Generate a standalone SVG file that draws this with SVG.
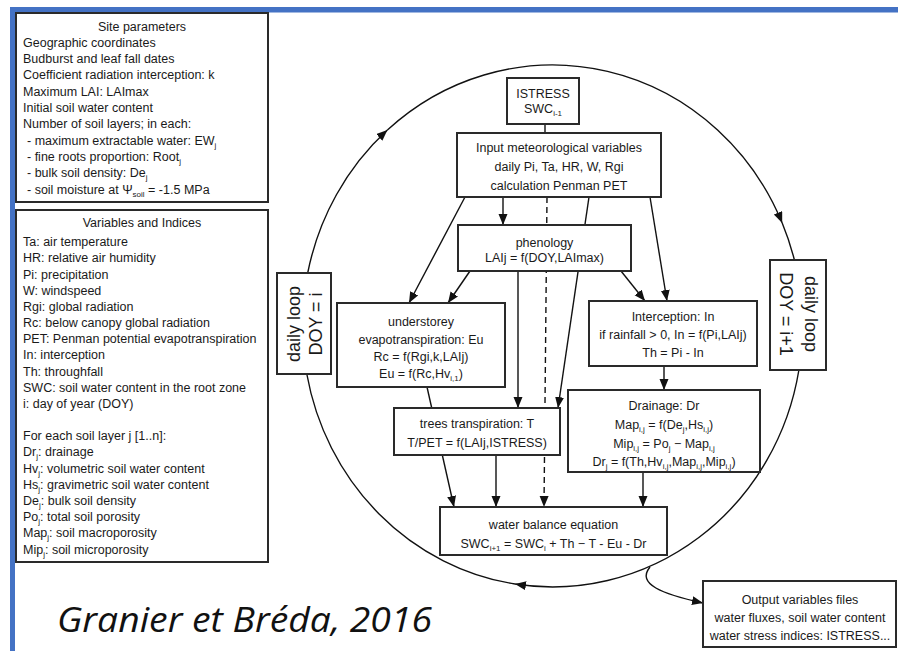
<svg xmlns="http://www.w3.org/2000/svg" width="898" height="651" viewBox="0 0 898 651">
<style>
.bx{fill:#fff;stroke:#2a2a2a;stroke-width:2}
.t{font-family:"Liberation Sans",Arial,sans-serif;font-size:12.5px;fill:#1a1a1a}
.c{text-anchor:middle}
.lp{font-size:18px}
.ln{stroke:#111;stroke-width:1.4;fill:none}
.ar{marker-end:url(#ah)}
.da{stroke-dasharray:6 4}
.cite{font-family:"Open Sans","DejaVu Sans",sans-serif;font-style:italic;font-size:34px;fill:#111}
</style>
<defs>
<marker id="ah" markerUnits="userSpaceOnUse" markerWidth="12" markerHeight="10" refX="11" refY="4.5" orient="auto">
<path d="M0,0 L11,4.5 L0,9 z" fill="#111"/>
</marker>
</defs>
<rect width="898" height="651" fill="#fff"/>
<rect x="10" y="7" width="888" height="5.5" fill="#4472c4"/>
<rect x="10" y="7" width="5" height="644" fill="#4472c4"/>

<g id="connectors">
<path class="ln ar" d="M307.7,273 A250,261 0 0 1 387.4,130"/>
<path class="ln ar" d="M387.4,130 A250,261 0 0 1 782.2,223"/>
<path class="ln" d="M782.2,223 A250,261 0 0 1 794.4,260"/>
<path class="ln ar" d="M798.9,370 A250,261 0 0 1 515,584"/>
<path class="ln" d="M515,584 A250,261 0 0 1 306.8,374"/>
<path class="ln ar" d="M650,567 C636,584 662,594 703,603"/>
<line class="ln" x1="545" y1="124" x2="545" y2="133"/>
<line class="ln ar" x1="503" y1="197" x2="503" y2="225"/>
<line class="ln ar da" x1="547" y1="197" x2="544" y2="507"/>
<line class="ln ar" x1="465" y1="197" x2="409" y2="303"/>
<line class="ln ar" x1="470" y1="271" x2="448" y2="303"/>
<line class="ln ar" x1="518" y1="271" x2="518" y2="408"/>
<line class="ln ar" x1="589" y1="197" x2="558" y2="408"/>
<line class="ln ar" x1="621" y1="271" x2="645" y2="301"/>
<line class="ln ar" x1="650" y1="197" x2="667" y2="301"/>
<line class="ln ar" x1="664" y1="366" x2="664" y2="390"/>
<line class="ln ar" x1="427" y1="387" x2="454" y2="507"/>
<line class="ln ar" x1="496" y1="455" x2="496" y2="507"/>
<line class="ln ar" x1="643" y1="472" x2="643" y2="507"/>
</g>

<g id="site-parameters">
<rect class="bx" x="16" y="13" width="252" height="189"/>
<text class="t c" x="142" y="30.5">Site parameters</text>
<text class="t" x="23" y="46.8">Geographic coordinates</text>
<text class="t" x="23" y="63.1">Budburst and leaf fall dates</text>
<text class="t" x="23" y="79.4">Coefficient radiation interception: k</text>
<text class="t" x="23" y="95.7">Maximum LAI: LAImax</text>
<text class="t" x="23" y="112">Initial soil water content</text>
<text class="t" x="23" y="128.3">Number of soil layers; in each:</text>
<text class="t" x="27" y="144.6">- maximum extractable water: EW<tspan dy="3" font-size="8">j</tspan></text>
<text class="t" x="27" y="160.9">- fine roots proportion: Root<tspan dy="3" font-size="8">j</tspan></text>
<text class="t" x="27" y="177.2">- bulk soil density: De<tspan dy="3" font-size="8">j</tspan></text>
<text class="t" x="27" y="193.5">- soil moisture at Ψ<tspan dy="3" font-size="8">soil</tspan><tspan dy="-3"> = -1.5 MPa</tspan></text>
</g>

<g id="variables-indices">
<rect class="bx" x="16" y="210" width="252" height="352"/>
<text class="t c" x="142" y="227">Variables and Indices</text>
<text class="t" x="23" y="246.2">Ta: air temperature</text>
<text class="t" x="23" y="262.4">HR: relative air humidity</text>
<text class="t" x="23" y="278.5">Pi: precipitation</text>
<text class="t" x="23" y="294.7">W: windspeed</text>
<text class="t" x="23" y="310.9">Rgi: global radiation</text>
<text class="t" x="23" y="327">Rc: below canopy global radiation</text>
<text class="t" x="23" y="343.2">PET: Penman potential evapotranspiration</text>
<text class="t" x="23" y="359.4">In: interception</text>
<text class="t" x="23" y="375.6">Th: throughfall</text>
<text class="t" x="23" y="391.7">SWC: soil water content in the root zone</text>
<text class="t" x="23" y="407.9">i: day of year (DOY)</text>
<text class="t" x="23" y="440.2">For each soil layer j [1..n]:</text>
<text class="t" x="23" y="456.4">Dr<tspan dy="3" font-size="8">j</tspan><tspan dy="-3">: drainage</tspan></text>
<text class="t" x="23" y="472.6">Hv<tspan dy="3" font-size="8">j</tspan><tspan dy="-3">: volumetric soil water content</tspan></text>
<text class="t" x="23" y="488.8">Hs<tspan dy="3" font-size="8">j</tspan><tspan dy="-3">: gravimetric soil water content</tspan></text>
<text class="t" x="23" y="504.9">De<tspan dy="3" font-size="8">j</tspan><tspan dy="-3">: bulk soil density</tspan></text>
<text class="t" x="23" y="521.1">Po<tspan dy="3" font-size="8">j</tspan><tspan dy="-3">: total soil porosity</tspan></text>
<text class="t" x="23" y="537.3">Map<tspan dy="3" font-size="8">j</tspan><tspan dy="-3">: soil macroporosity</tspan></text>
<text class="t" x="23" y="553.5">Mip<tspan dy="3" font-size="8">j</tspan><tspan dy="-3">: soil microporosity</tspan></text>
</g>

<g id="istress">
<rect class="bx" x="507" y="78" width="72" height="46"/>
<text class="t c" x="543" y="97.5">ISTRESS</text>
<text class="t c" x="543" y="112.5">SWC<tspan dy="3" font-size="8">i-1</tspan></text>
</g>

<g id="input-meteo">
<rect class="bx" x="457" y="133" width="204" height="64"/>
<text class="t c" x="559" y="151.5">Input meteorological variables</text>
<text class="t c" x="559" y="171">daily Pi, Ta, HR, W, Rgi</text>
<text class="t c" x="559" y="189.5">calculation Penman PET</text>
</g>

<g id="phenology">
<rect class="bx" x="458" y="225" width="173" height="46"/>
<text class="t c" x="544.5" y="246.5">phenology</text>
<text class="t c" x="544.5" y="262">LAIj = f(DOY,LAImax)</text>
</g>

<g id="understorey">
<rect class="bx" x="337" y="303" width="168" height="84"/>
<text class="t c" x="421" y="325.5">understorey</text>
<text class="t c" x="421" y="343.5">evapotranspiration: Eu</text>
<text class="t c" x="421" y="360.5">Rc = f(Rgi,k,LAIj)</text>
<text class="t c" x="421" y="377.5">Eu = f(Rc,Hv<tspan dy="3" font-size="8">i,1</tspan><tspan dy="-3">)</tspan></text>
</g>

<g id="trees-transpiration">
<rect class="bx" x="394" y="408" width="166" height="47"/>
<text class="t c" x="477" y="427.5">trees transpiration: T</text>
<text class="t c" x="477" y="446.5">T/PET = f(LAIj,ISTRESS)</text>
</g>

<g id="interception">
<rect class="bx" x="589" y="301" width="168" height="65"/>
<text class="t c" x="673" y="320.5">Interception: In</text>
<text class="t c" x="673" y="338.5">if rainfall &gt; 0, In = f(Pi,LAIj)</text>
<text class="t c" x="673" y="356.5">Th = Pi - In</text>
</g>

<g id="drainage">
<rect class="bx" x="568" y="390" width="192" height="82"/>
<text class="t c" x="664" y="409.5">Drainage: Dr</text>
<text class="t c" x="664" y="428.5">Map<tspan dy="3" font-size="8">i,j</tspan><tspan dy="-3"> = f(De</tspan><tspan dy="3" font-size="8">j</tspan><tspan dy="-3">,Hs</tspan><tspan dy="3" font-size="8">i,j</tspan><tspan dy="-3">)</tspan></text>
<text class="t c" x="664" y="447.5">Mip<tspan dy="3" font-size="8">i,j</tspan><tspan dy="-3"> = Po</tspan><tspan dy="3" font-size="8">j</tspan><tspan dy="-3"> − Map</tspan><tspan dy="3" font-size="8">i,j</tspan></text>
<text class="t c" x="664" y="465.5">Dr<tspan dy="3" font-size="8">j</tspan><tspan dy="-3"> = f(Th,Hv</tspan><tspan dy="3" font-size="8">i,j</tspan><tspan dy="-3">,Map</tspan><tspan dy="3" font-size="8">i,j</tspan><tspan dy="-3">,Mip</tspan><tspan dy="3" font-size="8">i,j</tspan><tspan dy="-3">)</tspan></text>
</g>

<g id="water-balance">
<rect class="bx" x="440" y="507" width="227" height="48"/>
<text class="t c" x="553.5" y="528.5">water balance equation</text>
<text class="t c" x="553.5" y="547.5">SWC<tspan dy="3" font-size="8">i+1</tspan><tspan dy="-3"> = SWC</tspan><tspan dy="3" font-size="8">i</tspan><tspan dy="-3"> + Th − T - Eu - Dr</tspan></text>
</g>

<g id="daily-loop-i">
<rect class="bx" x="277" y="273" width="54" height="101"/>
<text class="t c lp" transform="translate(299.5,324) rotate(-90)">daily loop</text>
<text class="t c lp" transform="translate(322,324) rotate(-90)">DOY = i</text>
</g>

<g id="daily-loop-i1">
<rect class="bx" x="770" y="260" width="56" height="110"/>
<text class="t c lp" transform="translate(805,314) rotate(90)">daily loop</text>
<text class="t c lp" transform="translate(780,314) rotate(90)">DOY = i+1</text>
</g>

<g id="output">
<rect class="bx" x="703" y="581" width="193" height="66"/>
<text class="t c" x="800" y="603.5">Output variables files</text>
<text class="t c" x="800" y="621.5">water fluxes, soil water content</text>
<text class="t c" x="800" y="639.5">water stress indices: ISTRESS...</text>
</g>

<text class="cite" x="57" y="632" textLength="375" lengthAdjust="spacingAndGlyphs">Granier et Bréda, 2016</text>
</svg>
